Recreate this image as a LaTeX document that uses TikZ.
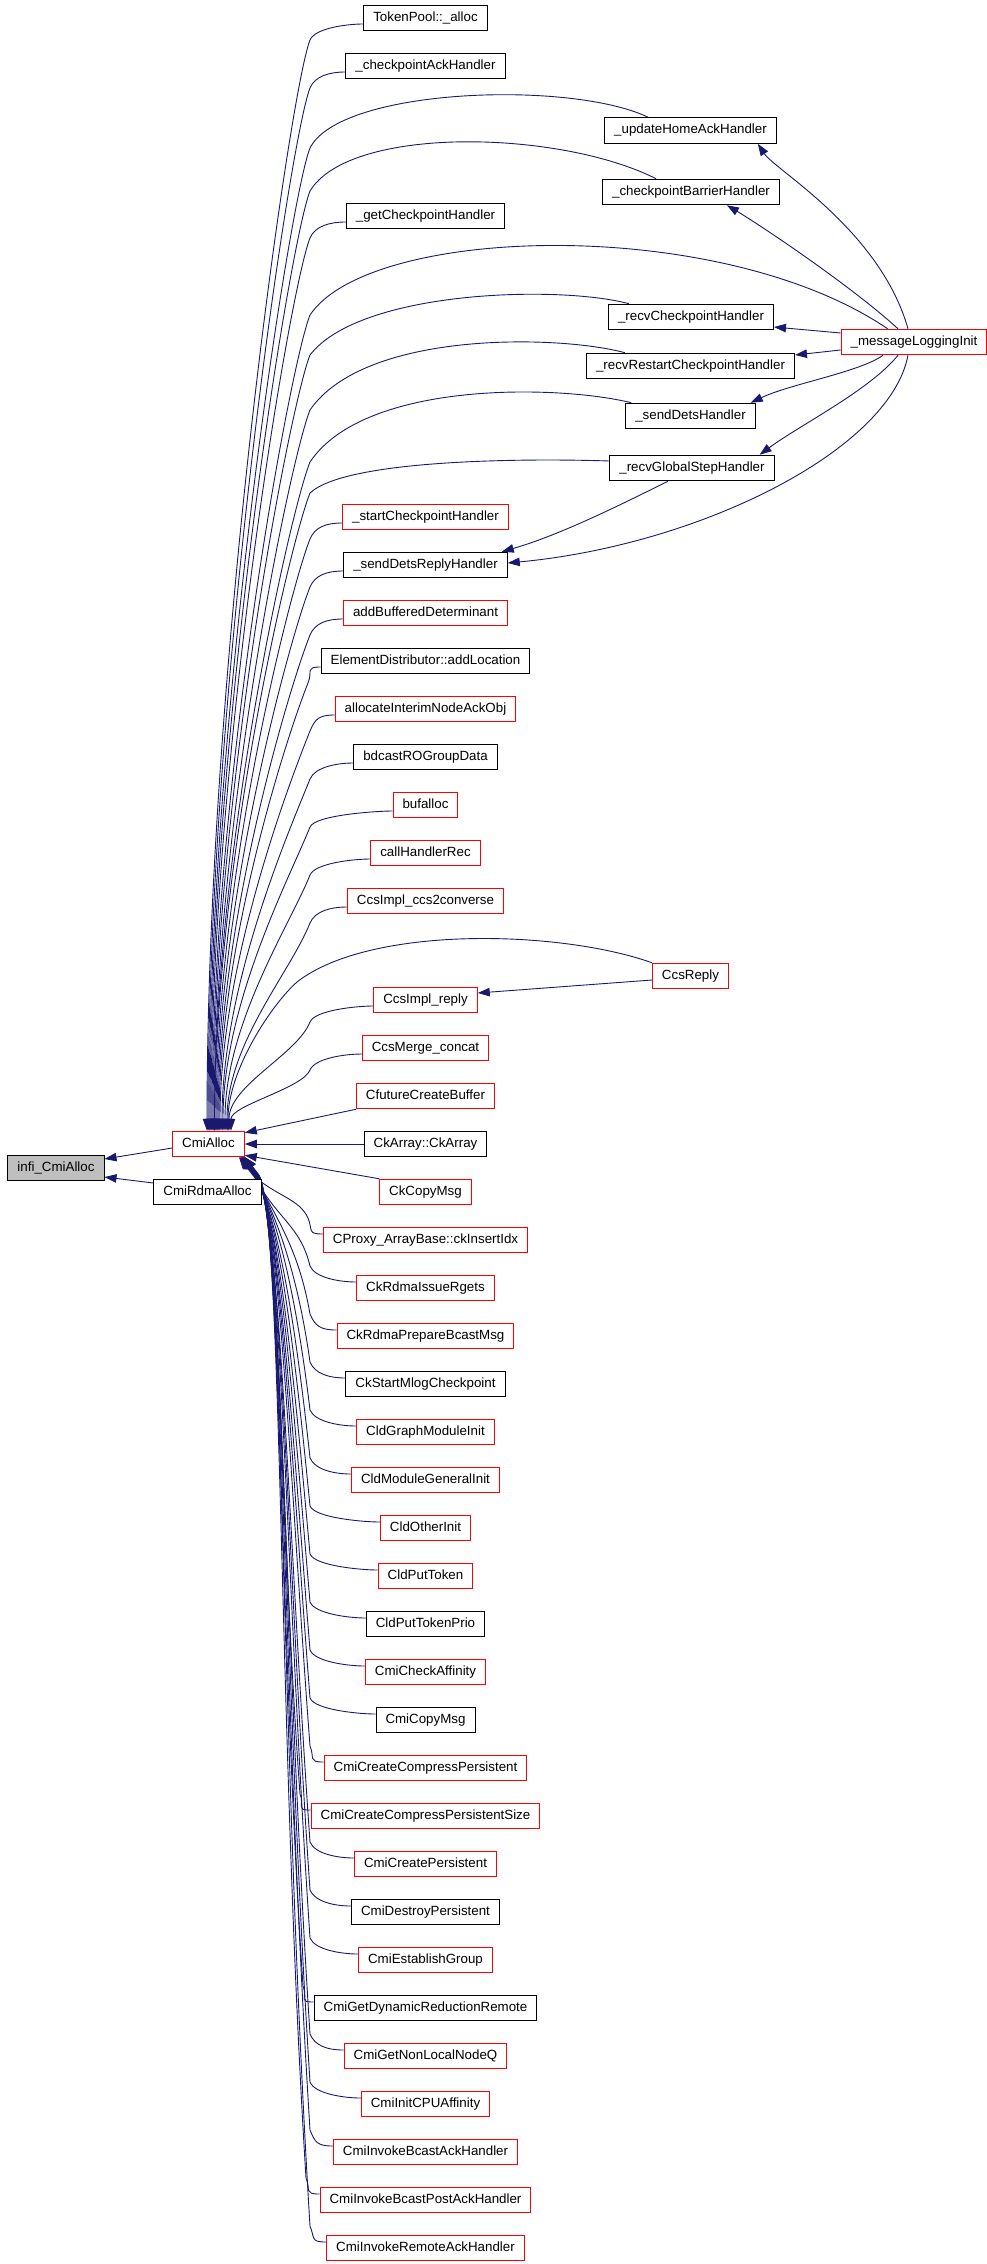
\documentclass[tikz,border=0pt]{standalone}
\usepackage{fontspec}
\setmainfont{Liberation Sans}
\usetikzlibrary{arrows.meta,calc}
\definecolor{navyc}{HTML}{191970}
\definecolor{grayfill}{HTML}{BFBFBF}
\pgfdeclarelayer{edgelayer}
\pgfsetlayers{edgelayer,main}
\newcommand\nodefont{\fontsize{13.33}{15}\selectfont}
\newcommand\upedge[4]{%
  \pgfmathsetmacro\bendy{#2+22}%
  \pgfmathsetmacro\kk{min(50,0.3*(1131-\bendy))}%
  \pgfmathsetmacro\cyb{1131-0.42*(1131-\bendy)}%
  \draw[edge] ($(#1.west)+(0,6)$) .. controls +(-16,0) and +(5,-12) .. (#4,\bendy)
    .. controls +(-0.4*\kk,\kk) and (#3,\cyb) .. (cma.north -| #3,0);}
\newcommand\downedge[4]{%
  \pgfmathsetmacro\bendy{#2-22}%
  \pgfmathsetmacro\py{1175}%
  \pgfmathsetmacro\ca{\bendy-0.45*(\bendy-\py)}%
  \pgfmathsetmacro\cax{#4-8-0.02*(\bendy-\py)}%
  \pgfmathsetmacro\cb{\py+min(45,0.5*(\bendy-\py))}%
  \draw[edge] ($(#1.west)+(0,-6)$) .. controls +(-16,0) and +(5,12) .. (#4,\bendy)
    .. controls (\cax,\ca) and (#3+38,\cb) .. ($(cma.south -| #3,0)+(14,18)$) -- (cma.south -| #3,0);}
\begin{document}
\begin{tikzpicture}[x=1pt,y=-1pt,
  box/.style={draw=black,fill=white,line width=1pt,minimum height=25.5pt,inner xsep=9.5pt,inner ysep=0pt,text height=9.6pt,text depth=2.8pt,font=\nodefont},
  redbox/.style={box,draw=red},
  graybox/.style={box,fill=grayfill},
  edge/.style={draw=navyc,line width=0.9pt,-{Triangle[length=12pt,width=8.5pt]}}]
\useasboundingbox (0,0) rectangle (987,2264);

\node[box] (tp) at (425.5,18) {TokenPool::\_alloc};
\node[box] (cah) at (425.5,66) {\_checkpointAckHandler};
\node[box] (uha) at (690.5,130.5) {\_updateHomeAckHandler};
\node[box] (cbh) at (691,192) {\_checkpointBarrierHandler};
\node[box] (gch) at (425.5,216) {\_getCheckpointHandler};
\node[box] (rch) at (691,317) {\_recvCheckpointHandler};
\node[redbox] (mli) at (914,342) {\_messageLoggingInit};
\node[box] (rrc) at (690.5,366) {\_recvRestartCheckpointHandler};
\node[box] (sdh) at (690.5,416) {\_sendDetsHandler};
\node[box] (rgs) at (692,468) {\_recvGlobalStepHandler};
\node[redbox] (sch) at (425.5,517) {\_startCheckpointHandler};
\node[box] (sdr) at (425.5,565) {\_sendDetsReplyHandler};
\node[redbox] (abd) at (425.5,613) {addBufferedDeterminant};
\node[box] (eda) at (425.5,661) {ElementDistributor::addLocation};
\node[redbox] (aia) at (425.5,709) {allocateInterimNodeAckObj};
\node[box] (bro) at (425.5,757) {bdcastROGroupData};
\node[redbox] (bfa) at (425.5,805) {bufalloc};
\node[redbox] (chr) at (425.5,853) {callHandlerRec};
\node[redbox] (ccc) at (425.5,901) {CcsImpl\_ccs2converse};
\node[redbox] (crp) at (690.5,976) {CcsReply};
\node[redbox] (cir) at (425.5,1000) {CcsImpl\_reply};
\node[redbox] (cmc) at (425.5,1048) {CcsMerge\_concat};
\node[redbox] (cfb) at (425.5,1096) {CfutureCreateBuffer};
\node[redbox] (cma) at (208.5,1144) {CmiAlloc};
\node[box] (cka) at (425.5,1144) {CkArray::CkArray};
\node[graybox] (ica) at (56,1168) {infi\_CmiAlloc};
\node[box] (cra) at (207.5,1192) {CmiRdmaAlloc};
\node[redbox] (ccm) at (425.5,1192) {CkCopyMsg};

\foreach \i/\y/\t/\s in {
  1/1240/{CProxy\_ArrayBase::ckInsertIdx}/redbox,
  2/1288/{CkRdmaIssueRgets}/redbox,
  3/1336/{CkRdmaPrepareBcastMsg}/redbox,
  4/1384/{CkStartMlogCheckpoint}/box,
  5/1432/{CldGraphModuleInit}/redbox,
  6/1480/{CldModuleGeneralInit}/redbox,
  7/1528/{CldOtherInit}/redbox,
  8/1576/{CldPutToken}/redbox,
  9/1624/{CldPutTokenPrio}/box,
  10/1672/{CmiCheckAffinity}/redbox,
  11/1720/{CmiCopyMsg}/box,
  12/1768/{CmiCreateCompressPersistent}/redbox,
  13/1816/{CmiCreateCompressPersistentSize}/redbox,
  14/1864/{CmiCreatePersistent}/redbox,
  15/1912/{CmiDestroyPersistent}/box,
  16/1960/{CmiEstablishGroup}/redbox,
  17/2008/{CmiGetDynamicReductionRemote}/box,
  18/2056/{CmiGetNonLocalNodeQ}/redbox,
  19/2104/{CmiInitCPUAffinity}/redbox,
  20/2152/{CmiInvokeBcastAckHandler}/redbox,
  21/2200/{CmiInvokeBcastPostAckHandler}/redbox,
  22/2248/{CmiInvokeRemoteAckHandler}/redbox}
  {\node[\s] (b\i) at (425.5,\y) {\t};}

\begin{pgfonlayer}{edgelayer}
\foreach \nm/\y/\tx/\bx in {tp/18/207/310, cah/66/208/310, gch/216/211/310,
  sch/517/216/310, sdr/565/217/310, abd/613/218/310, eda/661/219/308,
  aia/709/220/310, bro/757/222/310, bfa/805/223/310, chr/853/225/310,
  ccc/901/227/310, cir/1000/229/310, cmc/1048/231/310}
  {\upedge{\nm}{\y}{\tx}{\bx}}

\draw[edge] ($(uha.north west)+(44,0)$) .. controls (570,80) and (340,88) .. (310,148) .. controls +(-20,50) and (209,718) .. (cma.north -| 209,0);
\draw[edge] ($(cbh.north west)+(54,0)$) .. controls (560,130) and (350,125) .. (310,191) .. controls +(-20,50) and (210,736) .. (cma.north -| 210,0);
\draw[edge] ($(mli.north west)+(47,0)$) .. controls (720,215) and (370,225) .. (310,315) .. controls +(-20,50) and (212,788) .. (cma.north -| 212,0);
\draw[edge] ($(rch.north west)+(21,0)$) .. controls (560,285) and (360,290) .. (310,355) .. controls +(-20,50) and (213,805) .. (cma.north -| 213,0);
\draw[edge] ($(rrc.north west)+(39,0)$) .. controls (560,335) and (365,330) .. (310,410) .. controls +(-20,50) and (214,828) .. (cma.north -| 214,0);
\draw[edge] ($(sdh.north west)+(6,0)$) .. controls (560,385) and (365,380) .. (310,462) .. controls +(-20,50) and (214.5,850) .. (cma.north -| 214.5,0);
\draw[edge] ($(rgs.west)+(0,-7)$) .. controls (520,458) and (345,460) .. (310,493) .. controls +(-20,50) and (215,863) .. (cma.north -| 215,0);
\draw[edge] (crp.north west) .. controls (560,930) and (370,925) .. (297,982) .. controls +(-25,22) and (228,1070) .. (cma.north -| 228,0);

\draw[edge] ($(mli.north)+(-6,0)$) .. controls (880,230) and (775,170) .. ($(uha.south east)+(-19,0)$);
\draw[edge] ($(mli.north)+(-16,0)$) .. controls (850,285) and (760,225) .. ($(cbh.south east)+(-53,0)$);
\draw[edge] ($(mli.west)+(0,-9)$) -- ($(rch.east)+(0,10)$);
\draw[edge] ($(mli.west)+(0,8)$) -- ($(rrc.east)+(0,-11)$);
\draw[edge] ($(mli.south)+(-31,0)$) .. controls (860,372) and (790,384) .. ($(sdh.north east)+(-5,0)$);
\draw[edge] ($(mli.south)+(-16,0)$) .. controls (870,390) and (800,425) .. ($(rgs.north east)+(-15,0)$);
\draw[edge] ($(mli.south)+(-6,0)$) .. controls (890,450) and (700,545) .. ($(sdr.east)+(0,-2)$);
\draw[edge] ($(rgs.south)+(-24,0)$) .. controls (620,505) and (560,535) .. ($(sdr.north east)+(-6,0)$);
\draw[edge] ($(crp.west)+(0,4)$) -- ($(cir.east)+(0,-7)$);
\draw[edge] ($(cma.west)+(0,4)$) -- ($(ica.east)+(0,-9)$);
\draw[edge] ($(cra.west)+(0,-9)$) -- ($(ica.east)+(0,9)$);
\draw[edge] (cfb.south west) -- ($(cma.north east)+(0,2)$);
\draw[edge] (cka.west) -- (cma.east);
\draw[edge] (ccm.north west) -- ($(cma.south east)+(0,-2)$);

\foreach \i/\y/\tx/\bx in {1/1240/239/308, 2/1288/239.5/310, 3/1336/240/310,
  4/1384/240.5/310, 5/1432/241/310, 6/1480/241/310, 7/1528/241.5/310,
  8/1576/241.5/310, 9/1624/242/310, 10/1672/242/310, 11/1720/242.5/310,
  12/1768/242.5/310, 13/1816/243/300, 14/1864/243/310, 15/1912/243.5/310,
  16/1960/243.5/310, 17/2008/244/303, 18/2056/244/310, 19/2104/244.5/310,
  20/2152/244.5/310, 21/2200/245/306, 22/2248/245/310}
  {\downedge{b\i}{\y}{\tx}{\bx}}
\end{pgfonlayer}
\end{tikzpicture}
\end{document}
